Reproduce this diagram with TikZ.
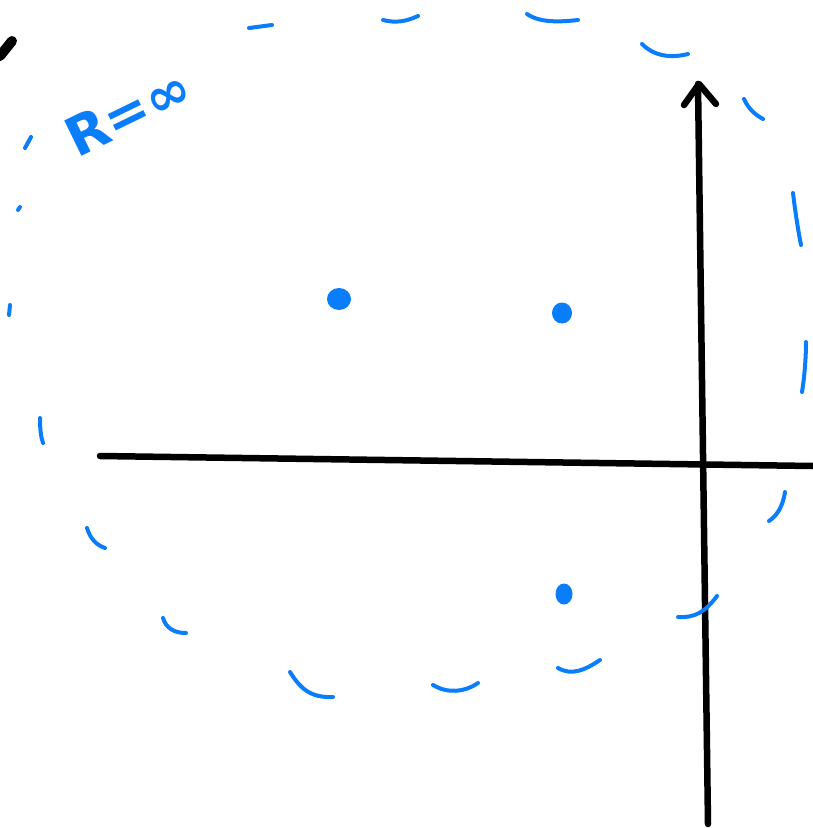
\documentclass[tikz,border=0pt]{standalone}
\usepackage{fontspec}
\newfontfamily\labelfont{DejaVu Sans}
\definecolor{penblue}{RGB}{10,125,250}
\begin{document}
\begin{tikzpicture}[x=1pt,y=-1pt,
  penstroke/.style={draw=penblue,line width=4pt,line cap=round},
  axis/.style={draw=black,line width=6.5pt,line cap=round,line join=round},
  pole/.style={fill=penblue,draw=none}]
\useasboundingbox (0,0) rectangle (813,828);
% axes
\draw[axis] (100,456) -- (813,466);
\draw[axis] (708,824) -- (698,84);
\draw[axis] (684,105) -- (699,84) -- (716,104);
% black mark top-left
\draw[draw=black,line width=10pt,line cap=round] (0,56) -- (12,41);
% dashed big circle
\draw[penstroke] (249,28) -- (272,25);
\draw[penstroke] (383,20) .. controls (395,23) and (405,22) .. (418,16);
\draw[penstroke] (527,14) .. controls (540,23) and (560,22) .. (578,20);
\draw[penstroke] (642,44) .. controls (655,57) and (672,58) .. (688,54);
\draw[penstroke] (744,99) .. controls (749,110) and (756,115) .. (763,119);
\draw[penstroke] (793,193) .. controls (795,210) and (798,230) .. (801,245);
\draw[penstroke] (806,342) .. controls (806,360) and (804,380) .. (802,392);
\draw[penstroke] (785,492) .. controls (783,505) and (778,515) .. (769,521);
\draw[penstroke] (678,617) .. controls (695,618) and (705,612) .. (717,596);
\draw[penstroke] (558,668) .. controls (572,676) and (585,670) .. (600,660);
\draw[penstroke] (433,685) .. controls (448,694) and (465,692) .. (478,683);
\draw[penstroke] (290,672) .. controls (300,688) and (310,698) .. (333,697);
\draw[penstroke] (163,618) .. controls (166,628) and (174,633) .. (186,633);
\draw[penstroke] (87,528) .. controls (90,538) and (96,545) .. (105,548);
\draw[penstroke] (40,418) .. controls (40,430) and (41,437) .. (43,443);
\draw[penstroke] (10,305) -- (9,315);
\draw[penstroke] (18,210) -- (20,207);
\draw[penstroke] (25,148) -- (31,137);
% poles
\fill[pole] (339,299) ellipse [x radius=12, y radius=11];
\fill[pole] (562,313) ellipse [x radius=10, y radius=10.5];
\fill[pole] (564,594) ellipse [x radius=8.5, y radius=10.5];
% label
\node[text=penblue,rotate=26,font=\labelfont\bfseries\fontsize{54}{58}\selectfont,inner sep=0pt] (lbl) at (128,112) {R=∞};
\end{tikzpicture}
\end{document}
